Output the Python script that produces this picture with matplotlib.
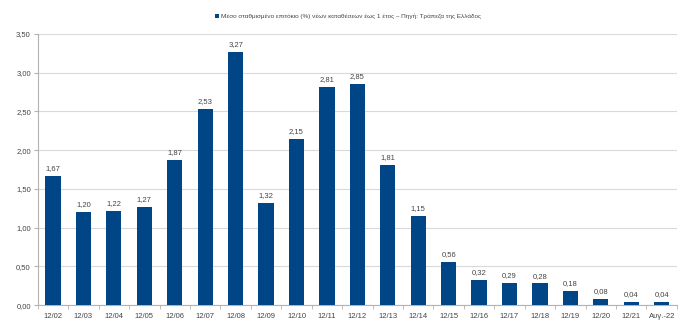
import numpy as np
import matplotlib.pyplot as plt

labels = ['12/02', '12/03', '12/04', '12/05', '12/06', '12/07', '12/08', '12/09', '12/10',
          '12/11', '12/12', '12/13', '12/14', '12/15', '12/16', '12/17', '12/18', '12/19',
          '12/20', '12/21', 'Αυγ.-22']
values = [1.67, 1.20, 1.22, 1.27, 1.87, 2.53, 3.27, 1.32, 2.15, 2.81, 2.85, 1.81, 1.15,
          0.56, 0.32, 0.29, 0.28, 0.18, 0.08, 0.04, 0.04]
legend_text = 'Μέσο σταθμισμένο επιτόκιο (%) νέων καταθέσεων έως 1 έτος – Πηγή: Τράπεζα της Ελλάδος'

plt.rcParams['font.family'] = ['Liberation Sans', 'DejaVu Sans']
txt = '#444444'

fig = plt.figure(figsize=(7, 3.26), dpi=100)
ax = fig.add_axes([0.054, 0.064, 0.913, 0.832])

x = np.arange(len(values))
bars = ax.bar(x, values, width=0.5, color='#004586', zorder=3, label=legend_text)
for xi, v in zip(x, values):
    ax.text(xi, v + 0.05, f'{v:.2f}'.replace('.', ','), ha='center', va='bottom',
            fontsize=5.5, color=txt)

ax.set_xlim(-0.5, len(values) - 0.5)
ax.set_ylim(0, 3.5)
yt = np.arange(0, 3.51, 0.5)
ax.set_yticks(yt)
ax.set_yticklabels([f'{t:.2f}'.replace('.', ',') for t in yt], fontsize=5.5, color=txt)
ax.set_xticks(x)
ax.set_xticklabels(labels, fontsize=5.5, color=txt)
ax.set_xticks(np.arange(-0.5, len(values)), minor=True)
ax.tick_params(axis='x', which='major', length=0, pad=6)
ax.tick_params(axis='x', which='minor', length=3, color='#b3b3b3')
ax.tick_params(axis='y', length=3, color='#b3b3b3', pad=2)
ax.grid(axis='y', color='#d9d9d9', linewidth=0.8, zorder=0)
for s in ['top', 'right']:
    ax.spines[s].set_visible(False)
for s in ['left', 'bottom']:
    ax.spines[s].set_color('#b3b3b3')
    ax.spines[s].set_linewidth(0.8)

fig.legend(handles=[bars], labels=[legend_text], loc='center', bbox_to_anchor=(0.497, 0.95),
           frameon=False, fontsize=4.6, handlelength=0.6, handleheight=0.6,
           handletextpad=0.3, labelcolor=txt)

fig.savefig('out.png', dpi=100)
